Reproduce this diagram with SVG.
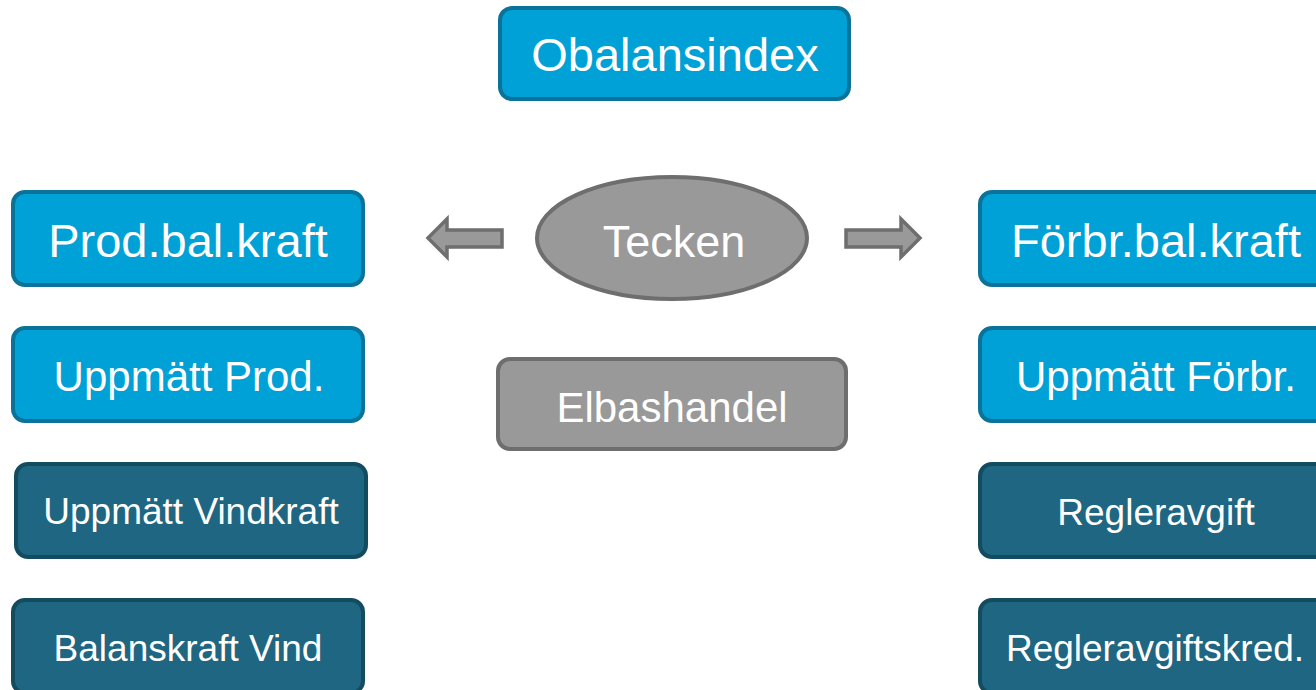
<svg xmlns="http://www.w3.org/2000/svg" width="1316" height="690" viewBox="0 0 1316 690">
  <style>
    .lbl { font-family: "Liberation Sans", Arial, sans-serif; fill: #ffffff; text-anchor: middle; }
    .blue { fill: #00a1d6; stroke: #0b7399; stroke-width: 4; }
    .teal { fill: #1f6682; stroke: #134b5f; stroke-width: 4; }
    .gray { fill: #999999; stroke: #6e6e6e; stroke-width: 4; }
    .arrow { fill: #999999; stroke: #6e6e6e; stroke-width: 3.5; stroke-linejoin: miter; }
  </style>
  <rect width="1316" height="690" fill="#ffffff"/>

  <g id="obalansindex">
    <rect class="blue" x="500" y="8" width="349" height="91" rx="12"/>
    <text class="lbl" x="675" y="71" font-size="47">Obalansindex</text>
  </g>

  <g id="tecken">
    <ellipse class="gray" cx="672" cy="238" rx="135" ry="61"/>
    <text class="lbl" x="674" y="257" font-size="45">Tecken</text>
  </g>

  <g id="elbashandel">
    <rect class="gray" x="498" y="359" width="348" height="90" rx="12"/>
    <text class="lbl" x="672" y="422" font-size="42">Elbashandel</text>
  </g>

  <g id="prod-bal-kraft">
    <rect class="blue" x="13" y="192" width="350" height="93" rx="12"/>
    <text class="lbl" x="188" y="257" font-size="47">Prod.bal.kraft</text>
  </g>
  <g id="uppmatt-prod">
    <rect class="blue" x="13" y="328" width="350" height="93" rx="12"/>
    <text class="lbl" x="189" y="391" font-size="42">Uppmätt Prod.</text>
  </g>
  <g id="uppmatt-vindkraft">
    <rect class="teal" x="16" y="464" width="350" height="93" rx="12"/>
    <text class="lbl" x="191" y="524" font-size="37">Uppmätt Vindkraft</text>
  </g>
  <g id="balanskraft-vind">
    <rect class="teal" x="13" y="600" width="350" height="93" rx="12"/>
    <text class="lbl" x="188" y="661" font-size="37">Balanskraft Vind</text>
  </g>

  <g id="forbr-bal-kraft">
    <rect class="blue" x="980" y="192" width="350" height="93" rx="12"/>
    <text class="lbl" x="1156" y="257" font-size="47">Förbr.bal.kraft</text>
  </g>
  <g id="uppmatt-forbr">
    <rect class="blue" x="980" y="328" width="350" height="93" rx="12"/>
    <text class="lbl" x="1156" y="391" font-size="42">Uppmätt Förbr.</text>
  </g>
  <g id="regleravgift">
    <rect class="teal" x="980" y="464" width="350" height="93" rx="12"/>
    <text class="lbl" x="1156" y="525" font-size="37">Regleravgift</text>
  </g>
  <g id="regleravgiftskred">
    <rect class="teal" x="980" y="600" width="350" height="93" rx="12"/>
    <text class="lbl" x="1155" y="661" font-size="37">Regleravgiftskred.</text>
  </g>

  <g id="connectors">
    <!-- block arrows pointing away from Tecken -->
    <polygon class="arrow" points="428,238 447,219 447,230 502,230 502,247 447,247 447,257"/>
    <polygon class="arrow" points="920,238 901,219 901,230 846,230 846,247 901,247 901,257"/>
  </g>
</svg>
